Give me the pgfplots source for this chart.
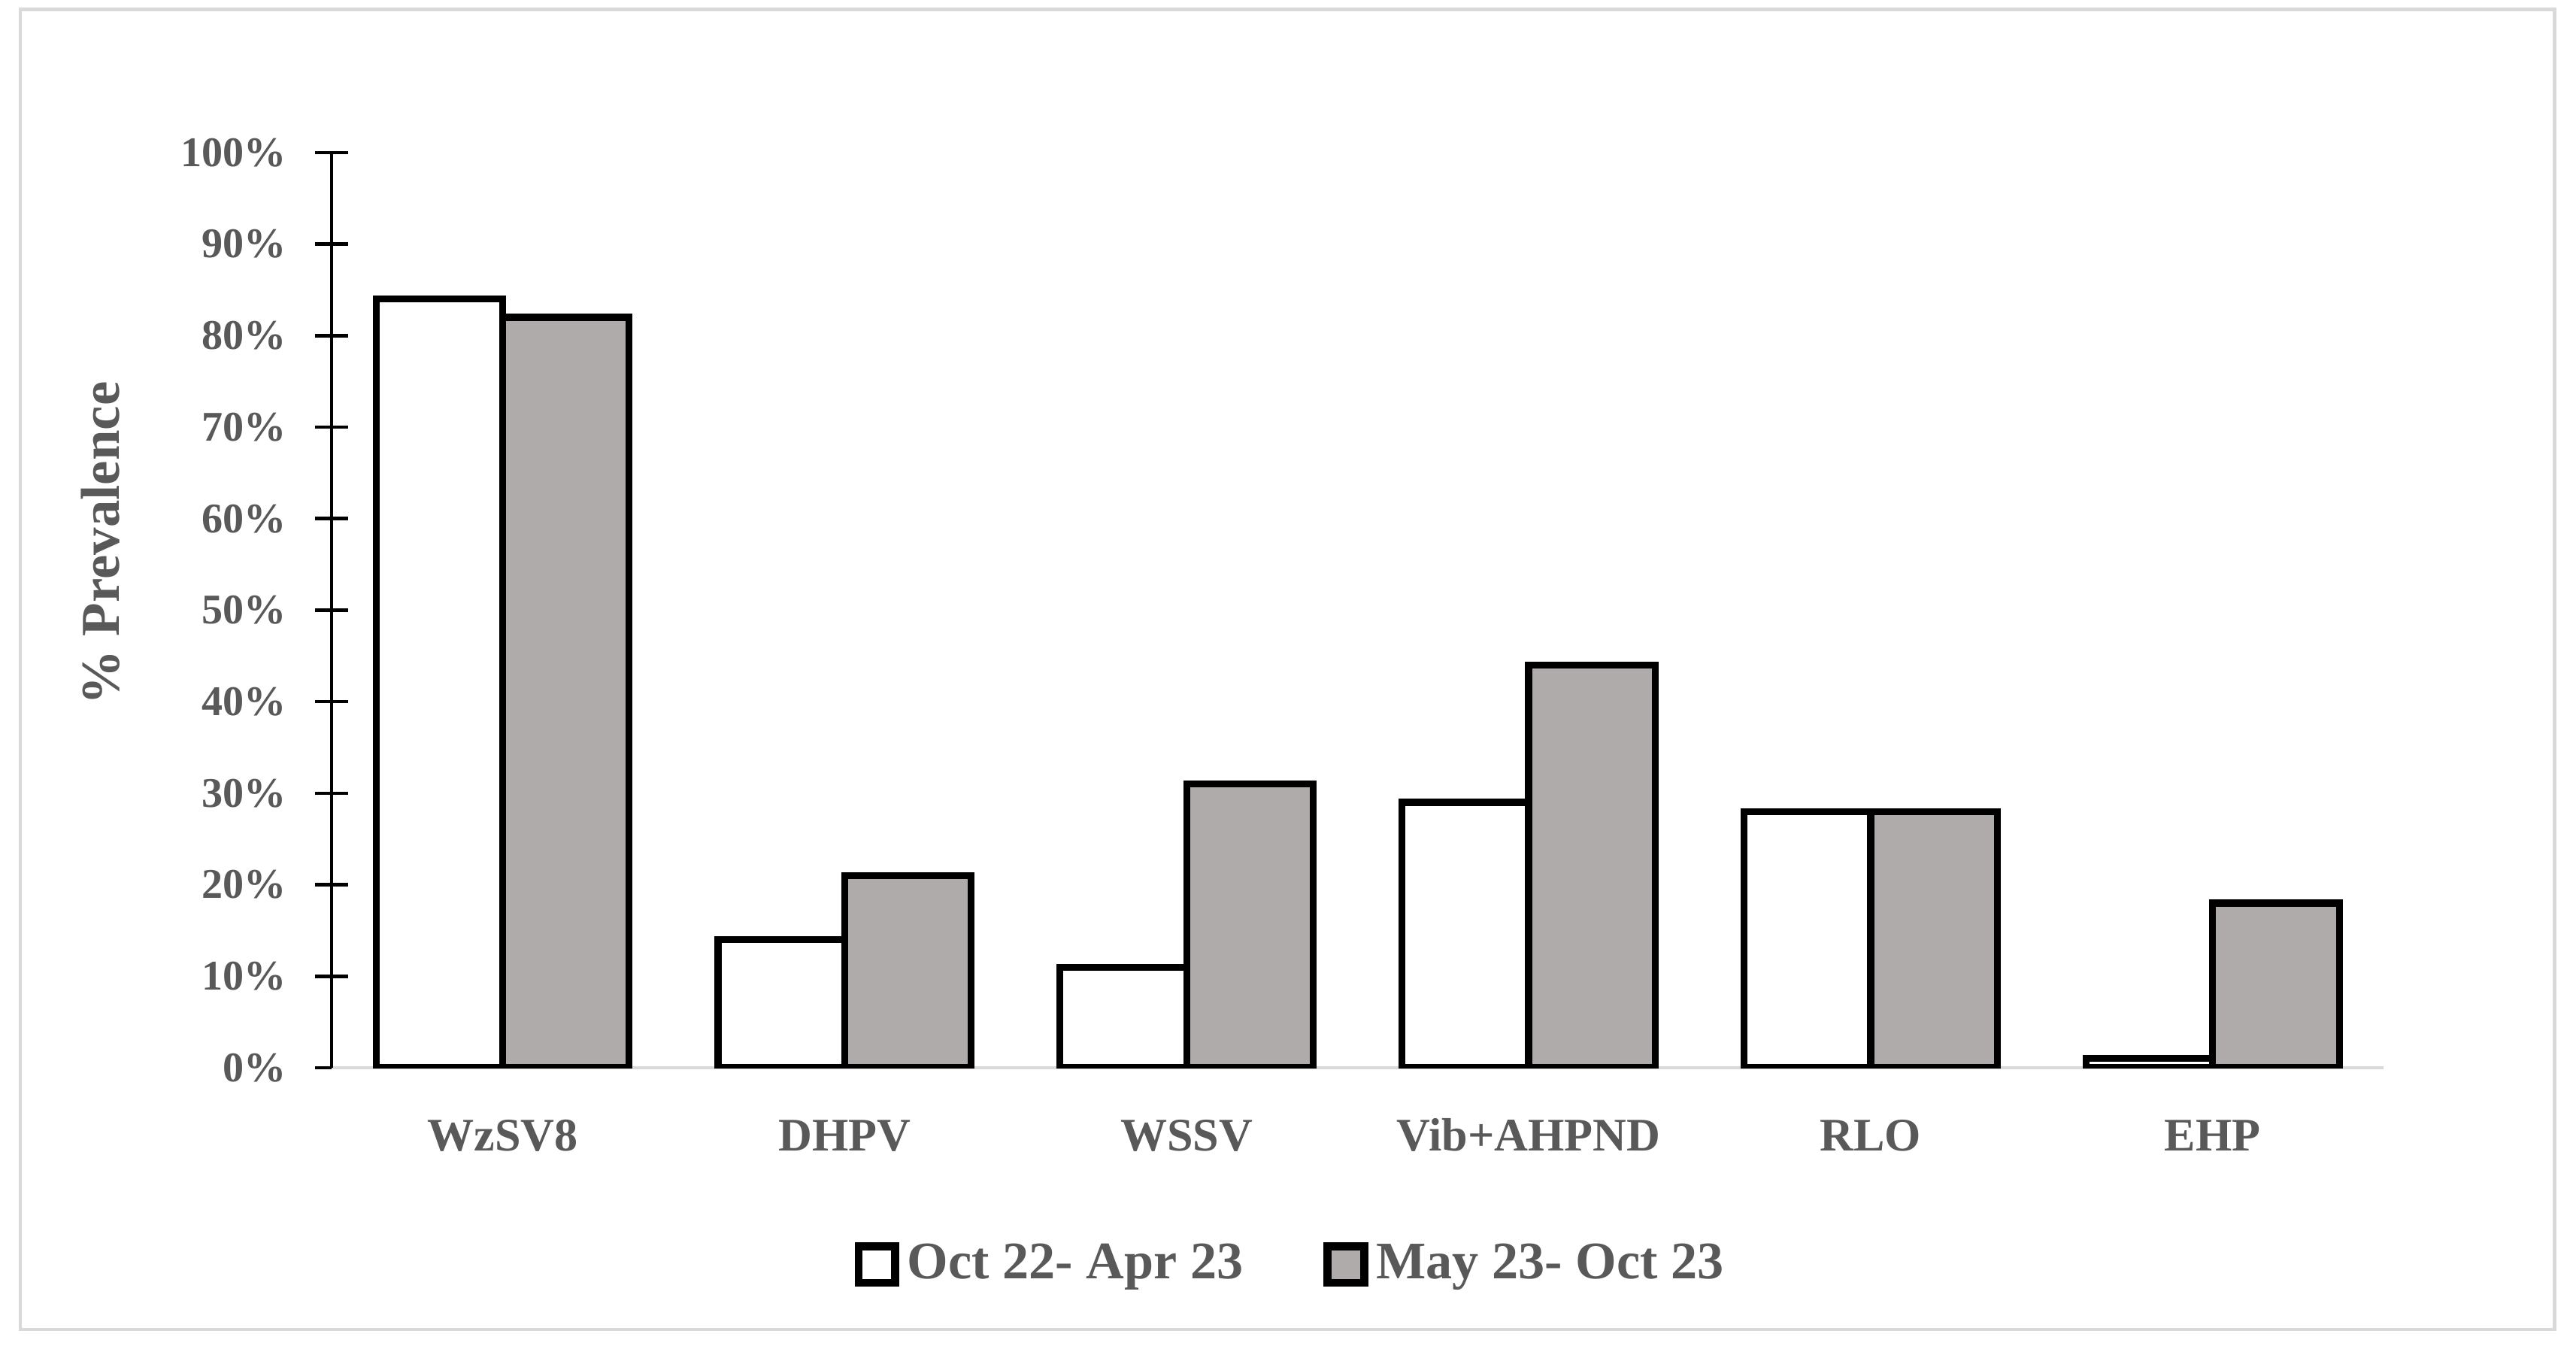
\documentclass[border=0pt]{standalone}
\usepackage{pgfplots}
\pgfplotsset{compat=1.18}
\usepackage{fontspec}
\setmainfont{Liberation Serif}
\definecolor{txt}{RGB}{89,89,89}
\definecolor{barg}{RGB}{175,171,171}
\definecolor{framec}{RGB}{217,217,217}
\begin{document}
\begin{tikzpicture}
\useasboundingbox[fill=white] (0,0) rectangle (634.44pt,332.04pt);
\draw[framec, line width=0.9pt] (5pt,4.63pt) rectangle (629.1pt,329.8pt);
\begin{axis}[
  at={(81.67pt,69.07pt)}, anchor=south west,
  scale only axis, width=505.4pt, height=225.4pt,
  xmin=-0.5, xmax=5.5, ymin=0, ymax=100,
  axis x line*=bottom, axis y line*=left,
  x axis line style={framec, line width=0.8pt},
  y axis line style={black, line width=0.85pt},
  xtick={0,1,2,3,4,5},
  xticklabels={WzSV8,DHPV,WSSV,Vib+AHPND,RLO,EHP},
  x tick style={draw=none},
  ytick={0,10,20,30,40,50,60,70,80,90,100},
  yticklabels={0\%,10\%,20\%,30\%,40\%,50\%,60\%,70\%,80\%,90\%,100\%},
  y tick style={black, line width=0.85pt},
  tick align=center, major tick length=8pt,
  xticklabel style={font=\fontsize{11.5}{13}\selectfont\bfseries, text=txt, anchor=base, yshift=-16.4pt},
  yticklabel style={font=\fontsize{10.4}{12}\selectfont\bfseries, text=txt, anchor=east, inner sep=0pt, xshift=-7pt},
  ylabel={\% Prevalence},
  ylabel style={font=\fontsize{13.5}{15}\selectfont\bfseries, text=txt, at={(axis description cs:-0.1126,0.573)}, anchor=center},
  legend style={at={(axis description cs:0.4686,-0.215)}, anchor=center, draw=none, fill=none,
    legend columns=2, font=\fontsize{13}{15}\selectfont\bfseries, text=txt,
    /tikz/every even column/.append style={column sep=17.8pt}},
  mylegend/.style={legend image code/.code={\draw[##1, line width=2pt] (0pt,-4.5pt) rectangle (9pt,4.5pt);}},
]
\addplot[ybar, bar width=0.37, bar shift=-0.185, fill=white, draw=black, line width=1.7pt, mylegend]
  coordinates {(0,84) (1,14) (2,11) (3,29) (4,28) (5,1)};
\addplot[ybar, bar width=0.37, bar shift=0.185, fill=barg, draw=black, line width=1.7pt, mylegend]
  coordinates {(0,82) (1,21) (2,31) (3,44) (4,28) (5,18)};
\legend{Oct 22- Apr 23, May 23- Oct 23}
\end{axis}
\end{tikzpicture}
\end{document}
